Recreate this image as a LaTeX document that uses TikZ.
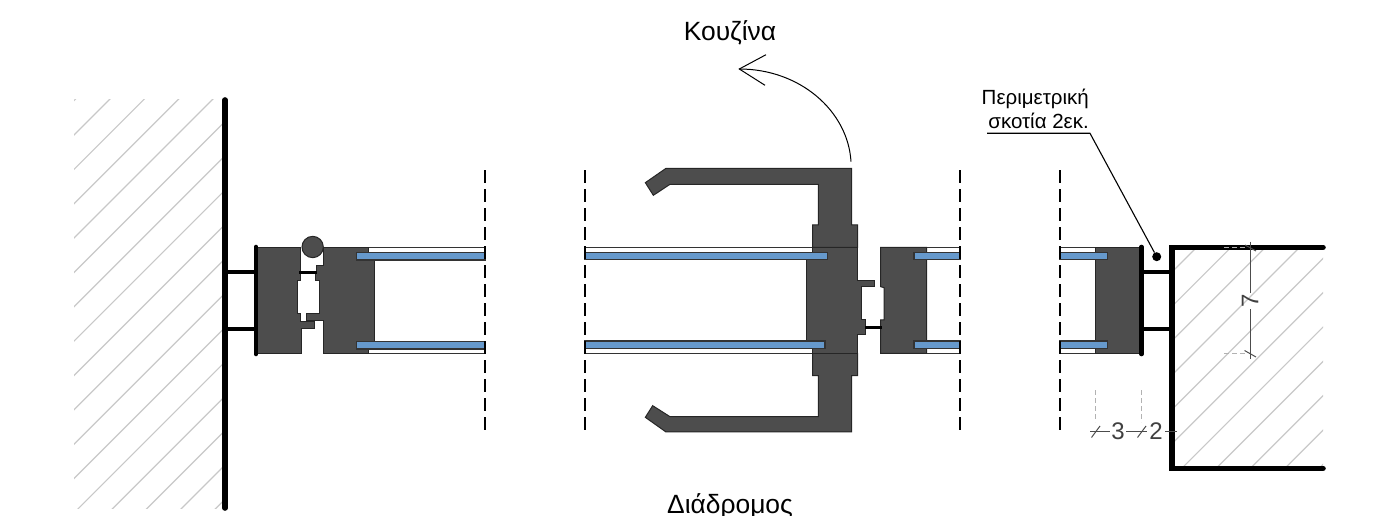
\documentclass[tikz,border=0pt]{standalone}
\usepackage{fontspec}
\setmainfont{Liberation Sans}
\tikzset{
  px/.style={x=1pt,y=-1pt},
  metal/.style={fill=metalgrey,draw=black!85,line width=1pt,line join=miter},
  glass/.style={fill=glassblue,draw=black!80,line width=1.2pt},
  thin edge/.style={draw=black!80,line width=1pt},
  wall/.style={line width=5.6pt,line cap=round,draw=black},
  plate/.style={line width=4.6pt,line cap=round,draw=black},
  stub/.style={line width=4.2pt,draw=black},
  gasket/.style={line width=2.6pt,draw=black},
  hatch/.style={draw=hatchgrey,line width=1.2pt},
  cutline/.style={line width=2.6pt,draw=black,dash pattern=on 13pt off 6pt},
  dimline/.style={draw=black!70,line width=1pt},
  extline/.style={draw=black!30,line width=1pt,dash pattern=on 5pt off 3pt},
  note/.style={inner sep=0pt,font=\fontsize{20.5}{23}\selectfont},
  room/.style={inner sep=0pt,font=\fontsize{26.4}{30}\selectfont},
  dimtext/.style={inner sep=0pt,font=\fontsize{24}{28}\selectfont,text=black!75},
}
\definecolor{metalgrey}{HTML}{4D4D4D}
\definecolor{glassblue}{HTML}{6699CC}
\definecolor{hatchgrey}{HTML}{C8C8C8}
\begin{document}
\begin{tikzpicture}[px]
\useasboundingbox (0,0) rectangle (1400,516);
% hatching
\begin{scope}
  \clip (74,100) rectangle (225,508);
  \foreach \k in {0,...,22} {
    \pgfmathsetmacro{\c}{209+34.35*(\k-3)}
    \draw[hatch] (0,\c) -- (\c,0);
  }
\end{scope}
\begin{scope}
  \clip (1173,250) rectangle (1323,466);
  \foreach \k in {0,...,14} {
    \pgfmathsetmacro{\c}{1444+34.35*(\k-1)}
    \draw[hatch] (1100,\c-1100) -- (1400,\c-1400);
  }
\end{scope}
% thin reveal lines
\foreach \a/\b in {368/485,585/815,905/960,1060/1100} {
  \draw[thin edge] (\a,247.3) -- (\b,247.3);
  \draw[thin edge] (\a,353.3) -- (\b,353.3);
}
% left frame
\begin{scope}[shift={(210,220)},x=0.3333pt,y=-0.3333pt]
  \path[metal] (136,82)--(273,82)--(273,182)--(263,182)--(263,282)--(273,282)--(273,305)--(315,305)--(315,325)--(275,325)--(275,400)--(136,400)--cycle;
  \path[metal] (340,82)--(476,82)--(476,98)--(494,98)--(494,388)--(476,388)--(476,400)--(340,400)--(340,302)--(290,302)--(290,282)--(330,282)--(330,182)--(318,182)--(318,158)--(320,158)--(320,138)--(340,138)--cycle;
  \path[metal] (308,81) circle[radius=32];
  \draw[gasket] (268,158) -- (320,158);
\end{scope}
% centre frame
\begin{scope}[shift={(630,50)},x=0.3333pt,y=-0.3333pt]
  \path[metal] (46,398)--(108,355)--(665,355)--(665,525)--(683,525)--(683,592)--(548,592)--(548,525)--(565,525)--(565,403)--(120,403)--(70,436)--cycle;
\end{scope}
\begin{scope}[shift={(630,360)},x=0.3333pt,y=-0.3333pt]
  \path[metal] (46,172)--(108,216)--(665,216)--(665,47)--(683,47)--(683,-20)--(548,-20)--(548,47)--(565,47)--(565,170)--(120,170)--(68,137)--cycle;
\end{scope}
\begin{scope}[shift={(780,220)},x=0.3333pt,y=-0.3333pt]
  \path[metal] (97,82)--(233,82)--(233,182)--(283,182)--(283,200)--(245,200)--(245,300)--(255,300)--(255,345)--(233,345)--(233,400)--(97,400)--(97,385)--(80,385)--(80,97)--(97,97)--cycle;
  \path[metal] (302,82)--(440,82)--(440,400)--(302,400)--(302,300)--(312,300)--(312,203)--(302,200)--cycle;
  \draw[gasket] (255,323) -- (305,323);
\end{scope}
% right sash
\path[metal] (1095.7,247.3) rectangle (1141,353.3);
% glass
\path[glass] (356.7,252.7) rectangle (485,260);
\path[glass] (356.7,341.7) rectangle (485,349);
\path[glass] (585,252.5) rectangle (827.3,259.7);
\path[glass] (585,341) rectangle (825,348.3);
\path[glass] (914,252.5) rectangle (960,259.7);
\path[glass] (914,341) rectangle (960,348.3);
\path[glass] (1060,252.5) rectangle (1107.7,259.7);
\path[glass] (1060,341) rectangle (1107.7,348.3);
% cut lines
\foreach \x in {485,585,960,1060} \draw[cutline] (\x,170) -- (\x,432);
% walls, plates, stubs
\draw[wall] (225,100) -- (225,508);
\draw[wall] (1323,247.3) -- (1171.7,247.3) -- (1171.7,468.3) -- (1323,468.3);
\draw[plate] (256,247) -- (256,354);
\draw[plate] (1141.5,247) -- (1141.5,354);
\foreach \y in {272,329} {
  \draw[stub] (225,\y) -- (256,\y);
  \draw[stub] (1141,\y) -- (1171.7,\y);
}
% swing arrow
\coordinate (swingstart) at (851,161.7);
\coordinate (swingend) at (739.3,69);
\coordinate (headup) at (766,54.7);
\coordinate (headdown) at (765,85.3);
\draw[black,line width=1pt] (swingstart) .. controls (848,111) and (800,69) .. (swingend);
\draw[black,line width=1pt] (headup) -- (swingend) -- (headdown);
% labels
\node[room] (kitchen) at (730,32.5) {Κουζίνα};
\node[room,anchor=base] (corridor) at (730,513) {Διάδρομος};
\node[note,anchor=base east] (notefirst) at (1089,105) {Περιμετρική};
\node[note,anchor=base east] (notesecond) at (1089,128.5) {σκοτία 2εκ.};
% leader
\coordinate (leaderstart) at (987,133.3);
\coordinate (leaderknee) at (1090,133.3);
\node[circle,fill=black,inner sep=0pt,minimum size=9pt] (scotiadot) at (1156.7,256.7) {};
\draw[black,line width=1.1pt] (leaderstart) -- (leaderknee) -- (scotiadot);
% dimensions
\draw[extline] (1224,247.3) -- (1247,247.3);
\draw[extline] (1224,353.3) -- (1247,353.3);
\draw[extline] (1095.7,390) -- (1095.7,422);
\draw[extline] (1141,390) -- (1141,422);
\draw[dimline] (1250,241.7) -- (1250,293);
\draw[dimline] (1250,309) -- (1250,359);
\draw[dimline] (1245,245) -- (1256,251);
\draw[dimline] (1244.5,350.5) -- (1256,357);
\node[dimtext,rotate=90] (dimseven) at (1250,300.5) {7};
\draw[dimline] (1090,431) -- (1110,431);
\draw[dimline] (1126,431) -- (1147,431);
\draw[dimline] (1165,431) -- (1177,431);
\draw[dimline] (1091.5,437.5) -- (1100,426);
\draw[dimline] (1137.5,437.5) -- (1146,426);
\node[dimtext] (dimthree) at (1118,431.5) {3};
\node[dimtext] (dimtwo) at (1156,431.5) {2};
\end{tikzpicture}
\end{document}
